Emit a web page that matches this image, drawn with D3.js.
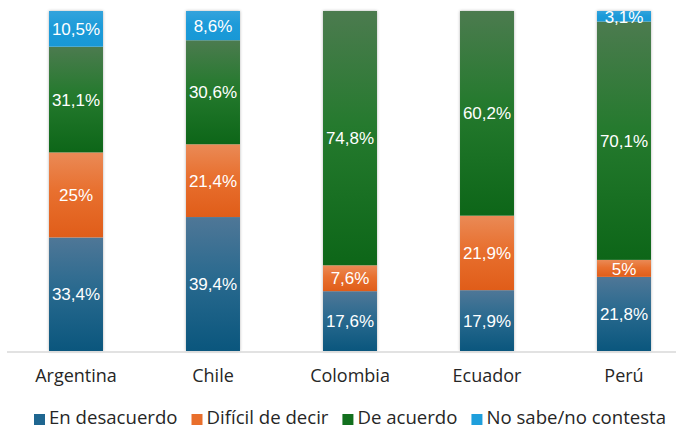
<!DOCTYPE html>
<html>
<head>
<meta charset="utf-8">
<script src="https://cdn.jsdelivr.net/npm/d3@7"></script>
<style>
  body { margin: 0; background: #fff; }
</style>
</head>
<body>
<div id="chart"></div>
<script>
// Data
const countries = ["Argentina", "Chile", "Colombia", "Ecuador", "Perú"];
const enDesacuerdo = [33.4, 39.4, 17.6, 17.9, 21.8];
const dificil = [25, 21.4, 7.6, 21.9, 5];
const deAcuerdo = [31.1, 30.6, 74.8, 60.2, 70.1];
const noSabe = [10.5, 8.6, 0, 0, 3.1];
const seriesNames = ["En desacuerdo", "Difícil de decir", "De acuerdo", "No sabe/no contesta"];

const width = 681, height = 429;

// Gradient colors per series (top, middle, bottom)
const shades = [
  ["#4f7797", "#2a6a8f", "#0a567d"],
  ["#ea8a56", "#e8702f", "#e05d19"],
  ["#4c7b4f", "#257a2e", "#0d6618"],
  ["#34a3dc", "#1d9bd9", "#1898d6"]
];
const legendColors = ["#1f6690", "#e96f2c", "#12701e", "#1f9fdc"];

const rows = countries.map((c, i) => ({
  country: c,
  "En desacuerdo": enDesacuerdo[i],
  "Difícil de decir": dificil[i],
  "De acuerdo": deAcuerdo[i],
  "No sabe/no contesta": noSabe[i]
}));

const svg = d3.select("#chart").append("svg")
  .attr("width", width)
  .attr("height", height);

const defs = svg.append("defs");
shades.forEach((s, i) => {
  const g = defs.append("linearGradient")
    .attr("id", "grad" + i)
    .attr("x1", 0).attr("y1", 0).attr("x2", 0).attr("y2", 1);
  g.append("stop").attr("offset", "0%").attr("stop-color", s[0]);
  g.append("stop").attr("offset", "45%").attr("stop-color", s[1]);
  g.append("stop").attr("offset", "100%").attr("stop-color", s[2]);
});
const shadow = defs.append("filter").attr("id", "shadow")
  .attr("x", "-20%").attr("y", "-5%").attr("width", "140%").attr("height", "110%");
shadow.append("feDropShadow")
  .attr("dx", 0).attr("dy", 0).attr("stdDeviation", 1.5)
  .attr("flood-color", "#000").attr("flood-opacity", 0.3);

// Scales
const x = d3.scaleBand()
  .domain(countries)
  .range([7.5, 692.5])
  .paddingInner(0.606)
  .paddingOuter(0.303);

const y = d3.scaleLinear()
  .domain([0, 100])
  .range([351, 11]);

const stacked = d3.stack().keys(seriesNames)(rows);

// Bars with shadow
const barGroup = svg.append("g");
barGroup.selectAll(".shadow")
  .data(rows)
  .join("rect")
    .attr("x", d => x(d.country))
    .attr("y", y(100))
    .attr("width", x.bandwidth())
    .attr("height", y(0) - y(100))
    .attr("fill", "#fff")
    .attr("filter", "url(#shadow)");

const layers = barGroup.selectAll(".layer")
  .data(stacked)
  .join("g")
    .attr("class", "layer")
    .attr("fill", (d, i) => `url(#grad${i})`);

layers.selectAll("rect")
  .data(d => d.filter(p => p.data[d.key] > 0))
  .join("rect")
    .attr("x", d => x(d.data.country))
    .attr("y", d => y(d[1]))
    .attr("width", x.bandwidth())
    .attr("height", d => y(d[0]) - y(d[1]));

// Value labels
const fmt = v => String(v).replace(".", ",") + "%";
layers.selectAll("text")
  .data(d => d.filter(p => p.data[d.key] > 0).map(p => ({p, key: d.key})))
  .join("text")
    .attr("x", d => x(d.p.data.country) + x.bandwidth() / 2)
    .attr("y", d => Math.max((y(d.p[0]) + y(d.p[1])) / 2, 17))
    .attr("dy", "0.36em")
    .attr("text-anchor", "middle")
    .attr("fill", "#fff")
    .style("font-family", "'Liberation Sans', Arial, sans-serif")
    .style("font-size", "17px")
    .text(d => fmt(d.p.data[d.key]));

// X axis
const xAxis = svg.append("g")
  .attr("transform", `translate(0,${y(0) + 1})`)
  .call(d3.axisBottom(x).tickSize(0).tickPadding(17));
xAxis.select(".domain")
  .attr("d", "M7,0H676")
  .attr("stroke", "#d9d9d9")
  .attr("stroke-width", 1.5);
xAxis.selectAll("text")
  .style("font-family", "'Open Sans', sans-serif")
  .style("font-size", "18px")
  .attr("fill", "#262626");

// Legend
const legend = svg.append("g").attr("transform", "translate(34, 0)");
let lx = 0;
seriesNames.forEach((name, i) => {
  const item = legend.append("g").attr("transform", `translate(${lx},0)`);
  item.append("rect")
    .attr("x", 0).attr("y", 414)
    .attr("width", 11).attr("height", 11)
    .attr("fill", legendColors[i]);
  const t = item.append("text")
    .attr("x", 15).attr("y", 424)
    .attr("fill", "#262626")
    .style("font-family", "'Open Sans', sans-serif")
    .style("font-size", "18.6px")
    .text(name);
  lx += 15 + t.node().getComputedTextLength() + 14;
});
</script>
</body>
</html>
